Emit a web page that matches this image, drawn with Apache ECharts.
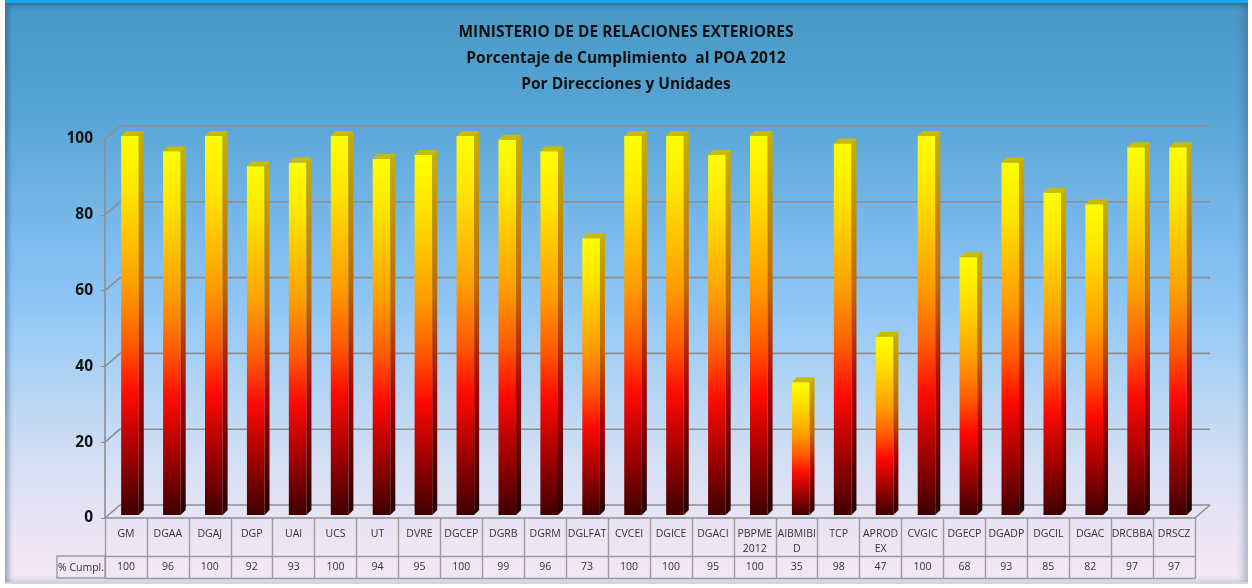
<!DOCTYPE html>
<html>
<head>
<meta charset="utf-8">
<script src="https://cdn.jsdelivr.net/npm/echarts@6/dist/echarts.min.js"></script>
<style>
  body { margin: 0; background: #fff; }
  #frame {
    position: absolute; left: 5px; top: 0; width: 1243px; height: 584px;
    box-sizing: border-box;
    border-top: 3px solid #1aa6ea;
    border-bottom: 2px solid #d8d4de;
    background: linear-gradient(to bottom, #4898c6 0%, #55a4d4 18%, #78b8ea 38%, #8ec6f6 52%, #b2d4f4 66%, #d6e0f4 80%, #ece4f5 92%, #f3e8f6 100%);
    box-shadow: inset 4px 3px 4px rgba(20, 60, 110, 0.35), inset -5px 0 6px rgba(60, 80, 110, 0.3);
  }
  #chart { position: absolute; left: 0; top: 0; width: 1252px; height: 588px; }
</style>
</head>
<body>
<div id="frame"></div>
<div id="chart"></div>
<script>
const categories = ['GM', 'DGAA', 'DGAJ', 'DGP', 'UAI', 'UCS', 'UT', 'DVRE', 'DGCEP', 'DGRB', 'DGRM', 'DGLFAT', 'CVCEI',
  'DGICE', 'DGACI', 'PBPME\n2012', 'AIBMIBI\nD', 'TCP', 'APROD\nEX', 'CVGIC', 'DGECP', 'DGADP', 'DGCIL', 'DGAC', 'DRCBBA', 'DRSCZ'];
const cumplimiento = [100, 96, 100, 92, 93, 100, 94, 95, 100, 99, 96, 73, 100, 100, 95, 100, 35, 98, 47, 100, 68, 93, 85, 82, 97, 97];
const yTicks = [0, 20, 40, 60, 80, 100];

const titleLines = [
  'MINISTERIO DE DE RELACIONES EXTERIORES',
  'Porcentaje de Cumplimiento  al POA 2012',
  'Por Direcciones y Unidades'
];

const FONT = '"Open Sans", "Noto Sans", sans-serif';
const lineGray = '#8e8e8e';
const tableGray = '#9c9c9c';
// wall depth (back wall offset from front axis)
const WX = 15, WY = -13;

const myChart = echarts.init(document.getElementById('chart'));

const frontGrad = new echarts.graphic.LinearGradient(0, 0, 0, 1, [
  { offset: 0, color: '#ffff00' },
  { offset: 0.15, color: '#ffe400' },
  { offset: 0.4, color: '#ff9c00' },
  { offset: 0.55, color: '#ff5a00' },
  { offset: 0.68, color: '#ff0a00' },
  { offset: 0.85, color: '#9c0000' },
  { offset: 1, color: '#3e0000' }
]);
const sideGrad = new echarts.graphic.LinearGradient(0, 0, 0, 1, [
  { offset: 0, color: '#c8b000' },
  { offset: 0.4, color: '#c06a00' },
  { offset: 0.68, color: '#a80000' },
  { offset: 1, color: '#220000' }
]);

function renderBar(params, api) {
  const idx = api.value(0);
  const v = api.value(1);
  const top = api.coord([idx, v]);
  const base = api.coord([idx, 0]);
  const band = api.size([1, 0])[0];
  const w = band * 0.42;
  const x0 = top[0] - w / 2 + 4;
  const yTop = top[1] - 3;
  const yBot = base[1] - 3;
  const dx = 5, dy = -5;
  return {
    type: 'group',
    children: [
      { type: 'rect', shape: { x: x0, y: yTop, width: w, height: yBot - yTop }, style: { fill: frontGrad } },
      { type: 'polygon', shape: { points: [[x0 + w, yTop], [x0 + w + dx, yTop + dy], [x0 + w + dx, yBot + dy], [x0 + w, yBot]] }, style: { fill: sideGrad } },
      { type: 'polygon', shape: { points: [[x0, yTop], [x0 + dx, yTop + dy], [x0 + w + dx, yTop + dy], [x0 + w, yTop]] }, style: { fill: '#c9bc00' } }
    ]
  };
}

function renderWall(params, api) {
  const t = api.value(1);
  const y = api.coord([0, t])[1];
  const cs = params.coordSys;
  const left = cs.x, right = cs.x + cs.width;
  const style = { stroke: lineGray, lineWidth: 1.6 };
  const children = [
    { type: 'line', shape: { x1: left, y1: y, x2: left + WX, y2: y + WY }, style },
    { type: 'line', shape: { x1: left + WX, y1: y + WY, x2: right + WX, y2: y + WY }, style }
  ];
  if (t === 0) {
    children.push({ type: 'line', shape: { x1: right, y1: y, x2: right + WX, y2: y + WY }, style });
  }
  return { type: 'group', children };
}

const option = {
  backgroundColor: 'transparent',
  animation: false,
  title: {
    text: titleLines.join('\n'),
    left: 'center',
    top: 15,
    textStyle: { fontFamily: FONT, fontSize: 15.5, fontWeight: 'bold', color: '#111', lineHeight: 26 }
  },
  grid: { left: 105, right: 57, top: 139, bottom: 70 },
  xAxis: [
    {
      type: 'category',
      data: categories,
      position: 'bottom',
      axisLine: { lineStyle: { color: lineGray, width: 1.6 } },
      axisTick: { show: true, length: 60, interval: 0, lineStyle: { color: tableGray, width: 1.4 } },
      axisLabel: { interval: 0, margin: 9, fontFamily: FONT, fontSize: 10.5, lineHeight: 15, color: '#333' }
    },
    {
      type: 'category',
      data: categories,
      position: 'bottom',
      offset: 38,
      axisLine: { lineStyle: { color: tableGray, width: 1.4 } },
      axisTick: { show: false },
      axisLabel: {
        interval: 0, margin: 6, fontFamily: FONT, fontSize: 10.5, color: '#333',
        formatter: (val, i) => String(cumplimiento[i])
      }
    },
    {
      type: 'category',
      data: categories,
      position: 'bottom',
      offset: 60,
      axisLine: { lineStyle: { color: tableGray, width: 1.4 } },
      axisTick: { show: false },
      axisLabel: { show: false }
    }
  ],
  yAxis: {
    type: 'value',
    min: 0,
    max: 100,
    interval: 20,
    axisLine: { show: true, lineStyle: { color: lineGray, width: 1.6 } },
    axisTick: { show: true, length: 4, lineStyle: { color: lineGray } },
    splitLine: { show: false },
    axisLabel: { margin: 12, fontFamily: FONT, fontSize: 15.5, fontWeight: 'bold', color: '#111' }
  },
  graphic: [
    {
      type: 'rect',
      shape: { x: 57, y: 556, width: 48, height: 22 },
      style: { fill: 'transparent', stroke: tableGray, lineWidth: 1.4 }
    },
    {
      type: 'text',
      x: 81, y: 568,
      style: { text: '% Cumpl.', fontFamily: FONT, fontSize: 10.5, fill: '#333', align: 'center', verticalAlign: 'middle' }
    }
  ],
  series: [
    {
      name: 'walls',
      type: 'custom',
      clip: false,
      silent: true,
      z: 1,
      renderItem: renderWall,
      data: yTicks.map(t => [0, t])
    },
    {
      name: '% Cumpl.',
      type: 'custom',
      clip: false,
      z: 3,
      renderItem: renderBar,
      data: cumplimiento.map((v, i) => [i, v])
    }
  ]
};

myChart.setOption(option);
</script>
</body>
</html>
